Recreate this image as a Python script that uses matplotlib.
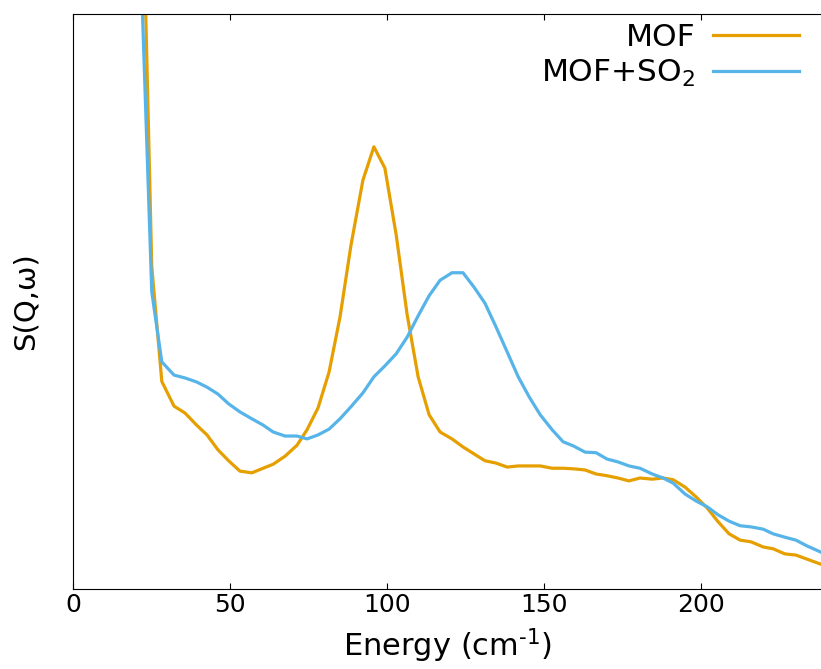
import matplotlib
matplotlib.use("Agg")
import matplotlib.pyplot as plt

# Energy grid (cm^-1) shared by both spectra
energy = [21.5, 25.0, 28.2, 32.1, 35.6, 39.3, 42.6, 46.1, 49.5, 53.1,
          56.9, 60.5, 63.7, 67.5, 71.3, 74.5, 78.0, 81.5, 85.0, 88.5,
          92.3, 95.8, 99.3, 102.9, 106.4, 109.9, 113.4, 116.9, 120.7, 124.2,
          127.7, 131.2, 134.7, 138.3, 141.8, 145.3, 148.8, 152.6, 156.1, 159.3,
          163.1, 166.6, 170.1, 173.6, 177.1, 180.6, 184.5, 188.0, 191.2, 195.0,
          198.5, 202.0, 205.5, 209.0, 212.5, 216.0, 219.9, 223.0, 226.8, 230.3,
          233.8, 238.3]

# S(Q,w), arbitrary units
mof = [13.65, 5.61, 3.61, 3.18, 3.06, 2.85, 2.68, 2.42, 2.23, 2.05,
       2.02, 2.10, 2.17, 2.31, 2.50, 2.77, 3.15, 3.77, 4.73, 5.98,
       7.11, 7.69, 7.32, 6.16, 4.77, 3.69, 3.03, 2.73, 2.61, 2.47,
       2.35, 2.23, 2.19, 2.12, 2.14, 2.14, 2.14, 2.10, 2.10, 2.09,
       2.07, 2.00, 1.97, 1.93, 1.88, 1.93, 1.91, 1.93, 1.90, 1.77,
       1.60, 1.41, 1.17, 0.96, 0.85, 0.82, 0.73, 0.70, 0.61, 0.59,
       0.52, 0.43]

mof_so2 = [10.9, 5.17, 3.95, 3.72, 3.67, 3.60, 3.51, 3.39, 3.22, 3.08,
           2.96, 2.85, 2.73, 2.66, 2.66, 2.61, 2.68, 2.78, 2.96, 3.17,
           3.41, 3.69, 3.88, 4.09, 4.38, 4.75, 5.10, 5.37, 5.50, 5.50,
           5.25, 4.97, 4.56, 4.12, 3.69, 3.34, 3.03, 2.77, 2.56, 2.49,
           2.38, 2.37, 2.26, 2.21, 2.14, 2.10, 2.00, 1.93, 1.84, 1.65,
           1.53, 1.43, 1.29, 1.18, 1.10, 1.08, 1.04, 0.96, 0.90, 0.85,
           0.75, 0.64]


def main():
    fig = plt.figure(figsize=(8.21, 6.69), dpi=100)
    ax = fig.add_axes([0.0893, 0.1196, 0.9107, 0.8595])

    ax.plot(energy, mof, color="#E69F00", lw=2.3, label="MOF")
    ax.plot(energy, mof_so2, color="#56B4E9", lw=2.3, label="MOF+SO$_2$")

    ax.set_xlim(0, 238.3)
    ax.set_ylim(0, 10)
    ax.set_xticks([0, 50, 100, 150, 200])
    ax.set_yticks([])
    ax.tick_params(axis="x", direction="in", top=True, length=4,
                   labelsize=18, pad=3)
    ax.spines["right"].set_visible(False)

    ax.set_xlabel(r"Energy (cm$^{\text{-}1}$)", fontsize=22, labelpad=7)
    ax.set_ylabel("S(Q,ω)", fontsize=21, labelpad=24)

    # legend: labels left of handles, no frame, top right corner
    ax.legend(loc="upper right", bbox_to_anchor=(0.975, 0.99), frameon=False,
              fontsize=22.5, markerfirst=False, handlelength=2.75,
              handletextpad=0.58, labelspacing=0.2, borderaxespad=0.0,
              borderpad=0.1)

    fig.savefig("out.png", dpi=100)


if __name__ == "__main__":
    main()
